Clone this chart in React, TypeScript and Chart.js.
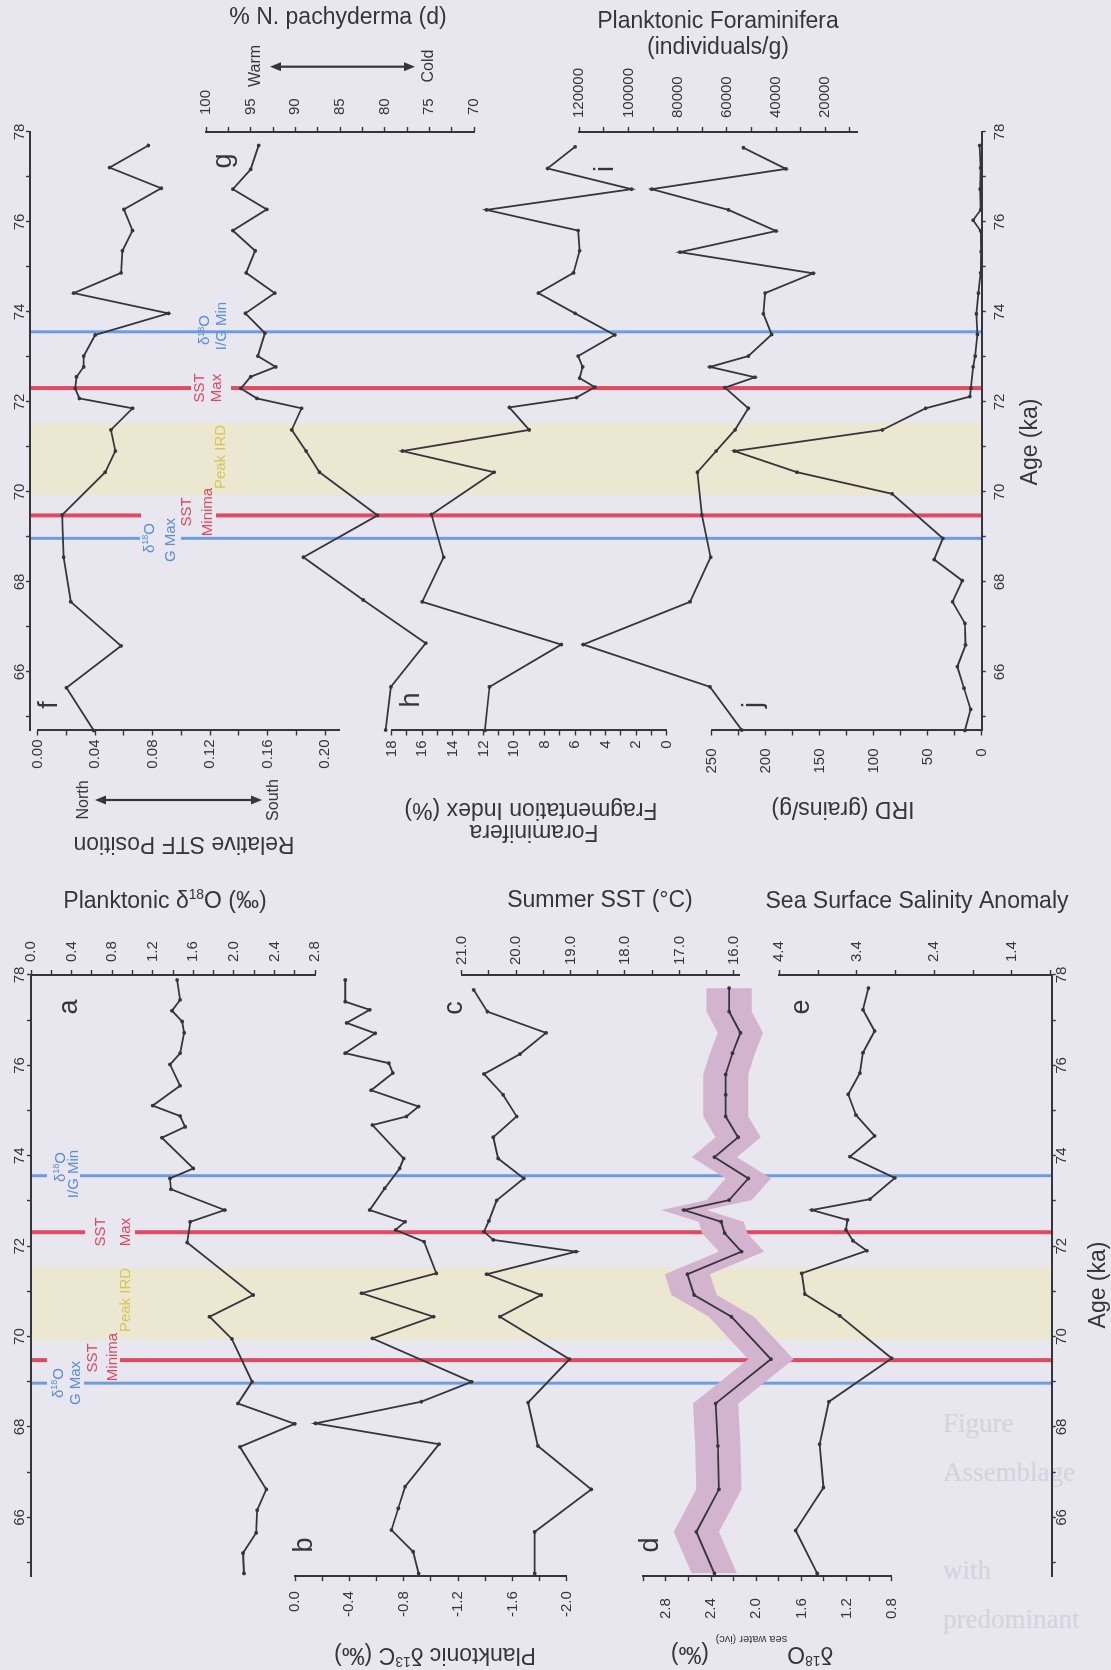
import { useEffect, useRef } from 'react';
import { Chart, registerables } from 'chart.js';

Chart.register(...registerables);

/* ------------------------------------------------------------------ */
/*  Data                                                               */
/* ------------------------------------------------------------------ */

// f – Relative STF position
const stfAge = [77.70, 77.21, 76.75, 76.28, 75.81, 75.36, 74.87, 74.42, 73.97, 73.49, 73.02, 72.78, 72.56, 72.30, 72.08, 71.86, 71.38, 70.91, 70.44, 69.49, 68.55, 67.56, 66.58, 65.65, 64.70];
const stfPosition = [0.077, 0.050, 0.086, 0.060, 0.066, 0.059, 0.058, 0.025, 0.091, 0.040, 0.032, 0.032, 0.027, 0.026, 0.029, 0.066, 0.051, 0.054, 0.047, 0.017, 0.018, 0.023, 0.058, 0.020, 0.039];

// g – % N. pachyderma (d)
const pachyAge = [77.70, 77.17, 76.73, 76.28, 75.81, 75.36, 74.87, 74.42, 73.97, 73.53, 73.02, 72.78, 72.56, 72.30, 72.08, 71.86, 71.38, 70.91, 70.44, 69.48, 68.55, 67.60, 66.64, 65.67, 64.71];
const pachyPct = [94.1, 95.0, 97.0, 93.2, 97.0, 94.5, 95.5, 92.3, 95.6, 93.4, 94.2, 92.2, 95.0, 96.1, 94.3, 89.3, 90.4, 88.8, 87.3, 80.8, 89.1, 82.4, 75.4, 79.3, 79.9];

// h – foraminifera fragmentation index (%)
const fragAge = [77.67, 77.19, 76.73, 76.27, 75.81, 75.36, 74.87, 74.42, 73.97, 73.49, 73.02, 72.78, 72.53, 72.33, 72.10, 71.88, 71.38, 70.91, 70.44, 69.50, 68.55, 67.56, 66.61, 65.67, 64.70];
const fragIndex = [6.0, 7.8, 2.3, 11.8, 5.8, 5.7, 6.1, 8.4, 6.0, 3.4, 5.8, 5.5, 5.7, 4.7, 5.9, 10.3, 9.0, 17.3, 11.3, 15.4, 14.6, 16.0, 6.9, 11.6, 11.9];

// i – planktonic foraminifera (individuals/g)
const foramAge = [77.65, 77.18, 76.73, 76.27, 75.80, 75.33, 74.86, 74.42, 73.96, 73.50, 73.02, 72.78, 72.55, 72.32, 71.86, 71.38, 70.91, 70.44, 69.49, 68.55, 67.56, 66.61, 65.67, 64.71];
const foramPerGram = [53300, 36000, 90600, 59400, 40000, 79100, 24900, 44500, 45200, 41800, 51300, 66900, 48600, 60800, 51300, 56700, 64400, 72000, 70200, 66600, 75000, 118400, 66900, 54000];

// j – IRD (grains/g)
const irdAge = [77.70, 77.20, 76.73, 76.27, 76.04, 75.80, 75.34, 74.87, 74.42, 73.96, 73.50, 73.02, 72.78, 72.31, 72.12, 71.86, 71.38, 70.91, 70.44, 69.96, 68.97, 68.50, 68.03, 67.56, 67.08, 66.60, 66.12, 65.64, 65.17, 64.70];
const irdPerGram = [2, 1, 1.5, 1, 8, 1, 0.5, 1, 3, 5, 4, 6, 8, 10, 11, 52, 92, 229, 171, 83, 36, 44, 18, 27, 15.5, 15, 22.6, 16.4, 10.2, 15.5];

// a – planktonic d18O (permil)
const d18OAge = [77.89, 77.45, 77.21, 76.97, 76.72, 76.27, 76.02, 75.55, 75.11, 74.88, 74.64, 74.40, 73.72, 73.50, 73.26, 72.80, 72.54, 72.08, 70.92, 70.44, 69.95, 69.00, 68.52, 68.07, 67.56, 66.62, 66.16, 65.66, 65.21, 64.76];
const d18O = [1.44, 1.47, 1.39, 1.49, 1.51, 1.47, 1.37, 1.47, 1.20, 1.47, 1.52, 1.29, 1.60, 1.37, 1.38, 1.91, 1.57, 1.54, 2.19, 1.76, 1.98, 2.18, 2.04, 2.60, 2.06, 2.32, 2.23, 2.22, 2.09, 2.10];

// b – planktonic d13C (permil)
const d13CAge = [77.89, 77.41, 77.23, 76.94, 76.71, 76.27, 76.05, 75.83, 75.45, 75.09, 74.87, 74.68, 73.94, 73.72, 73.28, 72.80, 72.54, 72.36, 72.10, 71.40, 70.96, 70.44, 69.96, 69.00, 68.56, 68.08, 67.62, 66.68, 66.20, 65.72, 65.24, 64.76];
const d13C = [-0.37, -0.37, -0.55, -0.38, -0.59, -0.37, -0.69, -0.72, -0.56, -0.91, -0.82, -0.57, -0.80, -0.77, -0.66, -0.55, -0.81, -0.74, -0.95, -1.04, -0.49, -1.02, -0.57, -1.30, -0.93, -0.15, -1.06, -0.81, -0.76, -0.71, -0.87, -0.91];

// c – summer SST (degC)
const sstAge = [77.67, 77.19, 76.72, 76.25, 75.81, 75.35, 74.87, 74.41, 73.94, 73.50, 73.01, 72.56, 72.32, 72.14, 71.88, 71.38, 70.92, 70.44, 69.50, 68.54, 67.58, 66.62, 65.68, 64.76];
const summerSST = [20.78, 20.53, 19.45, 19.93, 20.59, 20.24, 19.99, 20.42, 20.33, 19.86, 20.36, 20.50, 20.59, 20.42, 18.90, 20.54, 19.54, 20.30, 19.02, 19.78, 19.60, 18.62, 19.66, 19.66];

// d – d18O of sea water (ivc) with its uncertainty
const d18OswAge = [77.71, 77.19, 76.72, 76.27, 75.80, 75.35, 74.87, 74.41, 73.97, 73.50, 73.02, 72.80, 72.54, 72.29, 71.88, 71.38, 70.92, 70.44, 69.50, 68.52, 67.58, 66.62, 65.68, 64.76];
const d18Osw = [2.24, 2.24, 2.14, 2.21, 2.27, 2.27, 2.27, 2.16, 2.37, 2.07, 2.24, 2.64, 2.31, 2.28, 2.13, 2.61, 2.55, 2.22, 1.87, 2.36, 2.34, 2.33, 2.53, 2.37];
const d18OswErr = [0.2, 0.2, 0.2, 0.2, 0.2, 0.2, 0.2, 0.2, 0.2, 0.2, 0.2, 0.2, 0.2, 0.2, 0.2, 0.2, 0.2, 0.2, 0.2, 0.2, 0.2, 0.2, 0.2, 0.2];

// e – sea surface salinity anomaly
const sssAge = [77.71, 77.23, 76.76, 76.28, 75.83, 75.36, 74.90, 74.44, 73.98, 73.51, 73.04, 72.80, 72.58, 72.36, 72.12, 71.90, 71.40, 70.94, 70.46, 69.52, 68.56, 67.62, 66.66, 65.71, 64.76];
const sssAnomaly = [3.25, 3.32, 3.17, 3.32, 3.36, 3.51, 3.41, 3.17, 3.49, 2.91, 3.23, 3.98, 3.52, 3.54, 3.45, 3.27, 4.11, 4.07, 3.62, 2.95, 3.76, 3.88, 3.83, 4.19, 3.91];

// Age axis (ka)
const AGE_MIN = 64.7;
const AGE_MAX = 78;
const ageTicks = [66, 68, 70, 72, 74, 76, 78];
const ageMinorTicks = [65, 67, 69, 71, 73, 75, 77];

// Events
const peakIRD = [69.93, 71.53];
const isoIGMinAge = 73.56;
const sstMaxAge = 72.31;
const sstMinAge = 69.48;
const isoGMaxAge = 68.97;

// Value-axis tick labels
const stfTicks = [0, 0.04, 0.08, 0.12, 0.16, 0.2];
const stfMinor = [0.02, 0.06, 0.1, 0.14, 0.18];
const pachyTicks = [70, 75, 80, 85, 90, 95, 100];
const pachyMinor = [72.5, 77.5, 82.5, 87.5, 92.5, 97.5];
const fragTicks = [0, 2, 4, 6, 8, 10, 12, 14, 16, 18];
const fragMinor = [1, 3, 5, 7, 9, 11, 13, 15, 17];
const foramTicks = [20000, 40000, 60000, 80000, 100000, 120000];
const foramMinor = [10000, 30000, 50000, 70000, 90000, 110000];
const irdTicks = [0, 50, 100, 150, 200, 250];
const irdMinor = [25, 75, 125, 175, 225];
const d18OTicks = [0, 0.4, 0.8, 1.2, 1.6, 2.0, 2.4, 2.8];
const d18OMinor = [0.2, 0.6, 1.0, 1.4, 1.8, 2.2, 2.6];
const d13CTicks = [-2.0, -1.6, -1.2, -0.8, -0.4, 0];
const d13CMinor = [-1.8, -1.4, -1.0, -0.6, -0.2];
const sstTicks = [16, 17, 18, 19, 20, 21];
const sstMinor = [16.5, 17.5, 18.5, 19.5, 20.5];
const d18OswTicks = [0.8, 1.2, 1.6, 2.0, 2.4, 2.8];
const d18OswMinor = [1.0, 1.4, 1.8, 2.2, 2.6, 3.0];
const sssTicks = [1.4, 2.4, 3.4, 4.4];
const sssMinor = [0.9, 1.9, 2.9, 3.9];

// Caption lines printed beside the figure
const captionLines = ['Figure', 'Assemblage', 'with', 'predominant'];

/* ------------------------------------------------------------------ */
/*  Layout & style                                                     */
/* ------------------------------------------------------------------ */

const PAGE_W = 1111;
const PAGE_H = 1670;
// The figure is built in landscape (age left→right) and turned a quarter turn onto the page.
const FIG_W = PAGE_H;
const FIG_H = PAGE_W;

const FONT = '"Liberation Sans", Arial, Helvetica, sans-serif';
const INK = '#36353b';
const PAPER = '#e8e6ef';
const BAND = '#ece7d1';
const RED = '#df4c62';
const BLUE = '#6c9de3';
const PINK = '#d3b4cf';
const RED_TXT = '#dc4a5e';
const BLUE_TXT = '#5c8ed9';
const YEL_TXT = '#d6c755';

const AXIS_BOX = 100;
const TICK = 5;

type Half = { age78: number; perKa: number; top: number; bottom: number; gapLeft: number; gapRight: number };
type Axis = {
  lo: number; hi: number; vLo: number; vHi: number; side: 'top' | 'bottom';
  major: number[]; minor: number[]; dec: number; gap: number;
};

const UPPER: Half = { age78: 132, perKa: 45.0, top: 30, bottom: 981.7, gapLeft: 5, gapRight: 13 };
const LOWER: Half = { age78: 975, perKa: 45.2, top: 31, bottom: 1051.7, gapLeft: 6, gapRight: 5 };

const AX_F: Axis = { lo: 37.7, hi: 339.4, vLo: 0, vHi: 0.21, side: 'bottom', major: stfTicks, minor: stfMinor, dec: 2, gap: 9 };
const AX_G: Axis = { lo: 206, hi: 474, vLo: 100, vHi: 70, side: 'top', major: pachyTicks, minor: pachyMinor, dec: 0, gap: 17 };
const AX_H: Axis = { lo: 391.7, hi: 666.7, vLo: 18, vHi: 0, side: 'bottom', major: fragTicks, minor: fragMinor, dec: 0, gap: 10 };
const AX_I: Axis = { lo: 579.3, hi: 857.3, vLo: 120000, vHi: 7000, side: 'top', major: foramTicks, minor: foramMinor, dec: 0, gap: 14 };
const AX_J: Axis = { lo: 711.7, hi: 981.7, vLo: 250, vHi: 0, side: 'bottom', major: irdTicks, minor: irdMinor, dec: 0, gap: 18 };
const AX_A: Axis = { lo: 31, hi: 315, vLo: 0, vHi: 2.8, side: 'top', major: d18OTicks, minor: d18OMinor, dec: 1, gap: 13 };
const AX_B: Axis = { lo: 295, hi: 566.7, vLo: 0, vHi: -2.0, side: 'bottom', major: d13CTicks, minor: d13CMinor, dec: 1, gap: 15 };
const AX_C: Axis = { lo: 461.7, hi: 739.3, vLo: 21, vHi: 15.9, side: 'top', major: sstTicks, minor: sstMinor, dec: 1, gap: 10 };
const AX_D: Axis = { lo: 643.3, hi: 891.7, vLo: 3.0, vHi: 0.8, side: 'bottom', major: d18OswTicks, minor: d18OswMinor, dec: 1, gap: 22 };
const AX_E: Axis = { lo: 779.3, hi: 1050.5, vLo: 4.4, vHi: 0.9, side: 'top', major: sssTicks, minor: sssMinor, dec: 1, gap: 13 };

/* ------------------------------------------------------------------ */
/*  Drawing helpers (inputs in page coordinates)                       */
/* ------------------------------------------------------------------ */

type Seg = { t: string; sup?: boolean; sub?: boolean; k?: number; dy?: number };

function pageText(ctx: any, content: string | Seg[], px: number, py: number, rot: number, size: number, color: string) {
  const segs: Seg[] = typeof content === 'string' ? [{ t: content }] : content;
  ctx.save();
  ctx.translate(FIG_W - py, px);
  ctx.rotate(((rot + 90) * Math.PI) / 180);
  ctx.fillStyle = color;
  ctx.textAlign = 'left';
  ctx.textBaseline = 'alphabetic';
  let w = 0;
  let top = Infinity;
  let bot = -Infinity;
  const laid = segs.map((s) => {
    const fs = s.k ? size * s.k : s.sup || s.sub ? size * 0.6 : size;
    const dy = s.dy !== undefined ? s.dy : s.sup ? -size * 0.38 : s.sub ? size * 0.2 : 0;
    ctx.font = `${fs}px ${FONT}`;
    const m = ctx.measureText(s.t);
    top = Math.min(top, dy - m.actualBoundingBoxAscent);
    bot = Math.max(bot, dy + m.actualBoundingBoxDescent);
    const item = { s, fs, dy, x: w };
    w += m.width;
    return item;
  });
  const oy = -(top + bot) / 2;
  for (const it of laid) {
    ctx.font = `${it.fs}px ${FONT}`;
    ctx.fillText(it.s.t, it.x - w / 2, it.dy + oy);
  }
  ctx.restore();
}

function pageRect(ctx: any, x0: number, y0: number, x1: number, y1: number, color: string) {
  ctx.fillStyle = color;
  ctx.fillRect(FIG_W - y1, x0, y1 - y0, x1 - x0);
}

function pageArrow(ctx: any, x0: number, x1: number, y: number) {
  const X = FIG_W - y;
  ctx.strokeStyle = INK;
  ctx.fillStyle = INK;
  ctx.lineWidth = 2.2;
  ctx.beginPath();
  ctx.moveTo(X, x0 + 6);
  ctx.lineTo(X, x1 - 6);
  ctx.stroke();
  ctx.beginPath();
  ctx.moveTo(X, x0);
  ctx.lineTo(X - 4.5, x0 + 11);
  ctx.lineTo(X + 4.5, x0 + 11);
  ctx.closePath();
  ctx.fill();
  ctx.beginPath();
  ctx.moveTo(X, x1);
  ctx.lineTo(X - 4.5, x1 - 11);
  ctx.lineTo(X + 4.5, x1 - 11);
  ctx.closePath();
  ctx.fill();
}

const D18 = (rest = 'O'): Seg[] => [{ t: 'δ' }, { t: '18', sup: true }, { t: rest }];

/* ------------------------------------------------------------------ */
/*  Annotations for each stack                                         */
/* ------------------------------------------------------------------ */

function upperDecor(ctx: any) {
  // breaks in the event lines behind their labels
  pageRect(ctx, 191, 383, 231, 394, PAPER);
  pageRect(ctx, 141, 510, 216, 521, PAPER);
  pageRect(ctx, 140, 533, 181, 543, PAPER);

  pageText(ctx, D18(), 203.5, 330, -90, 15, BLUE_TXT);
  pageText(ctx, 'I/G Min', 220, 326, -90, 15, BLUE_TXT);
  pageText(ctx, 'SST', 199, 388, -90, 15, RED_TXT);
  pageText(ctx, 'Max', 216, 388, -90, 15, RED_TXT);
  pageText(ctx, D18(), 148, 538, -90, 15, BLUE_TXT);
  pageText(ctx, 'G Max', 170, 540, -90, 15, BLUE_TXT);
  pageText(ctx, 'SST', 186, 512, -90, 15, RED_TXT);
  pageText(ctx, 'Minima', 206, 512, -90, 15, RED_TXT);
  pageText(ctx, 'Peak IRD', 219, 457, -90, 15, YEL_TXT);

  pageText(ctx, 'f', 47, 705, -90, 27, INK);
  pageText(ctx, 'g', 226, 161, -90, 27, INK);
  pageText(ctx, 'h', 409, 700, -90, 27, INK);
  pageText(ctx, 'i', 603, 169, -90, 27, INK);
  pageText(ctx, 'j', 754, 705, -90, 27, INK);

  pageText(ctx, '% N. pachyderma (d)', 338, 18, 0, 23, INK);
  pageText(ctx, 'Planktonic Foraminifera', 718, 19, 0, 23, INK);
  pageText(ctx, '(individuals/g)', 718, 48, 0, 23, INK);
  pageText(ctx, 'Relative STF Position', 184, 846, 180, 23, INK);
  pageText(ctx, 'Foraminifera', 534, 834, 180, 23, INK);
  pageText(ctx, 'Fragmentation Index (%)', 531, 810, 180, 23, INK);
  pageText(ctx, 'IRD (grains/g)', 843, 809, 180, 23, INK);
  pageText(ctx, 'Age (ka)', 1030, 442, -90, 23, INK);

  pageArrow(ctx, 270, 415, 66.7);
  pageText(ctx, 'Warm', 254, 66, -90, 16, INK);
  pageText(ctx, 'Cold', 427, 66, -90, 16, INK);
  pageArrow(ctx, 95, 262, 800);
  pageText(ctx, 'North', 82, 800, -90, 16, INK);
  pageText(ctx, 'South', 272, 800, -90, 16, INK);
}

function lowerDecor(ctx: any) {
  pageRect(ctx, 47, 1171, 80, 1181, PAPER);
  pageRect(ctx, 85, 1226, 135, 1237, PAPER);
  pageRect(ctx, 47, 1354, 120, 1365, PAPER);
  pageRect(ctx, 47, 1378, 84, 1389, PAPER);

  pageText(ctx, D18(), 59, 1167, -90, 15, BLUE_TXT);
  pageText(ctx, 'I/G Min', 72, 1174, -90, 15, BLUE_TXT);
  pageText(ctx, 'SST', 100, 1232, -90, 15, RED_TXT);
  pageText(ctx, 'Max', 125, 1232, -90, 15, RED_TXT);
  pageText(ctx, D18(), 57, 1383, -90, 15, BLUE_TXT);
  pageText(ctx, 'G Max', 75, 1383, -90, 15, BLUE_TXT);
  pageText(ctx, 'SST', 92, 1358, -90, 15, RED_TXT);
  pageText(ctx, 'Minima', 111, 1357, -90, 15, RED_TXT);
  pageText(ctx, 'Peak IRD', 124, 1300, -90, 15, YEL_TXT);

  pageText(ctx, 'a', 69, 1007, -90, 27, INK);
  pageText(ctx, 'b', 302, 1545, -90, 27, INK);
  pageText(ctx, 'c', 454, 1008, -90, 27, INK);
  pageText(ctx, 'd', 648, 1545, -90, 27, INK);
  pageText(ctx, 'e', 801, 1007, -90, 27, INK);

  pageText(ctx, [{ t: 'Planktonic δ' }, { t: '18', sup: true }, { t: 'O (‰)' }], 165, 901, 0, 23, INK);
  pageText(ctx, 'Summer SST (°C)', 600, 901, 0, 23, INK);
  pageText(ctx, 'Sea Surface Salinity Anomaly', 917, 902, 0, 23, INK);
  pageText(ctx, [{ t: 'Planktonic δ' }, { t: '13', sup: true }, { t: 'C (‰)' }], 435, 1655, 180, 23, INK);
  pageText(ctx, [{ t: 'δ' }, { t: '18', sup: true }, { t: 'O' }, { t: 'sea water (ivc)', k: 0.48, dy: 11 }, { t: ' (‰)' }], 752, 1650, 180, 23, INK);
  pageText(ctx, 'Age (ka)', 1098, 1285, -90, 23, INK);
}

/* ------------------------------------------------------------------ */
/*  Chart configurations                                               */
/* ------------------------------------------------------------------ */

const ageSpan = (h: Half) => ({
  xl: FIG_W - (h.age78 + (AGE_MAX - AGE_MIN) * h.perKa),
  xr: FIG_W - h.age78,
});

const near = (list: number[], v: number) => list.some((m) => Math.abs(m - v) < 1e-6);

function lineSet(ages: number[], vals: number[]) {
  return {
    data: ages.map((a, i) => ({ x: a, y: vals[i] })),
    borderColor: INK,
    borderWidth: 1.8,
    pointRadius: 1.9,
    pointBackgroundColor: INK,
    pointBorderWidth: 0,
    tension: 0,
    fill: false,
    clip: false,
  };
}

function seriesConfig(half: Half, ax: Axis, datasets: any[]) {
  const { xl, xr } = ageSpan(half);
  const pos = ax.side === 'top' ? 'right' : 'left';
  const all = [...ax.major, ...ax.minor].sort((p, q) => p - q);
  return {
    type: 'line',
    data: { datasets },
    options: {
      animation: false,
      responsive: false,
      events: [],
      layout: {
        padding: {
          top: ax.lo,
          bottom: FIG_H - ax.hi,
          left: pos === 'left' ? xl - AXIS_BOX : xl,
          right: pos === 'right' ? FIG_W - xr - AXIS_BOX : FIG_W - xr,
        },
      },
      plugins: { legend: { display: false }, tooltip: { enabled: false } },
      scales: {
        x: { type: 'linear', display: false, min: AGE_MIN, max: AGE_MAX },
        y: {
          type: 'linear',
          position: pos,
          min: Math.min(ax.vLo, ax.vHi),
          max: Math.max(ax.vLo, ax.vHi),
          reverse: ax.vHi > ax.vLo,
          afterBuildTicks: (s: any) => { s.ticks = all.map((v) => ({ value: v })); },
          afterFit: (s: any) => { s.width = AXIS_BOX; },
          grid: { drawOnChartArea: false, tickLength: TICK, tickWidth: 1.4, tickColor: INK },
          border: { color: INK, width: 2 },
          ticks: {
            autoSkip: false,
            padding: ax.gap - TICK,
            color: INK,
            font: { family: FONT, size: 15, lineHeight: 1 },
            callback: (v: number) => (near(ax.major, v) ? Number(v).toFixed(ax.dec) : ''),
          },
        },
      },
    },
  };
}

const markers = [
  { age: isoIGMinAge, color: BLUE, width: 3 },
  { age: sstMaxAge, color: RED, width: 4 },
  { age: sstMinAge, color: RED, width: 4 },
  { age: isoGMaxAge, color: BLUE, width: 3 },
];

function frameConfig(half: Half, decor: (ctx: any) => void) {
  const { xl, xr } = ageSpan(half);
  const AX_HT = 24;
  const all = [...ageTicks, ...ageMinorTicks].sort((p, q) => p - q);
  const ageScale = (position: string, gap: number) => ({
    type: 'linear',
    position,
    min: AGE_MIN,
    max: AGE_MAX,
    afterBuildTicks: (s: any) => { s.ticks = all.map((v) => ({ value: v })); },
    afterFit: (s: any) => { s.height = AX_HT; },
    grid: { drawOnChartArea: false, tickLength: 4, tickWidth: 1.4, tickColor: INK },
    border: { color: INK, width: 2 },
    ticks: {
      autoSkip: false,
      maxRotation: 0,
      minRotation: 0,
      padding: gap - 6,
      color: INK,
      font: { family: FONT, size: 15, lineHeight: 1 },
      callback: (v: number) => (near(ageTicks, v) ? String(v) : ''),
    },
  });
  return {
    type: 'line',
    data: { datasets: [] },
    options: {
      animation: false,
      responsive: false,
      events: [],
      layout: { padding: { left: xl, right: FIG_W - xr, top: half.top - AX_HT, bottom: FIG_H - half.bottom - AX_HT } },
      plugins: { legend: { display: false }, tooltip: { enabled: false } },
      scales: {
        x: ageScale('bottom', half.gapRight),
        xt: { ...ageScale('top', half.gapLeft), axis: 'x' },
        y: { display: false, min: 0, max: 1 },
      },
    },
    plugins: [
      {
        id: 'eventMarks',
        beforeDraw(chart: any) {
          const { ctx, chartArea } = chart;
          const sx = chart.scales.x;
          ctx.save();
          const a = sx.getPixelForValue(peakIRD[0]);
          const b = sx.getPixelForValue(peakIRD[1]);
          ctx.fillStyle = BAND;
          ctx.fillRect(a, chartArea.top, b - a, chartArea.bottom - chartArea.top);
          for (const m of markers) {
            const X = sx.getPixelForValue(m.age);
            ctx.strokeStyle = m.color;
            ctx.lineWidth = m.width;
            ctx.beginPath();
            ctx.moveTo(X, chartArea.top);
            ctx.lineTo(X, chartArea.bottom);
            ctx.stroke();
          }
          ctx.restore();
        },
        afterDraw(chart: any) {
          chart.ctx.save();
          decor(chart.ctx);
          chart.ctx.restore();
        },
      },
    ],
  };
}

function buildConfigs() {
  const bandUpper = d18Osw.map((v, i) => v + d18OswErr[i]);
  const bandLower = d18Osw.map((v, i) => v - d18OswErr[i]);
  return [
    frameConfig(LOWER, lowerDecor),
    frameConfig(UPPER, upperDecor),
    seriesConfig(UPPER, AX_F, [lineSet(stfAge, stfPosition)]),
    seriesConfig(UPPER, AX_G, [lineSet(pachyAge, pachyPct)]),
    seriesConfig(UPPER, AX_H, [lineSet(fragAge, fragIndex)]),
    seriesConfig(UPPER, AX_I, [lineSet(foramAge, foramPerGram)]),
    seriesConfig(UPPER, AX_J, [lineSet(irdAge, irdPerGram)]),
    seriesConfig(LOWER, AX_A, [lineSet(d18OAge, d18O)]),
    seriesConfig(LOWER, AX_B, [lineSet(d13CAge, d13C)]),
    seriesConfig(LOWER, AX_C, [lineSet(sstAge, summerSST)]),
    seriesConfig(LOWER, AX_D, [
      lineSet(d18OswAge, d18Osw),
      {
        data: d18OswAge.map((a, i) => ({ x: a, y: bandUpper[i] })),
        borderColor: 'transparent', borderWidth: 0, pointRadius: 0, tension: 0,
        fill: '+1', backgroundColor: PINK, clip: false,
      },
      {
        data: d18OswAge.map((a, i) => ({ x: a, y: bandLower[i] })),
        borderColor: 'transparent', borderWidth: 0, pointRadius: 0, tension: 0,
        fill: false, clip: false,
      },
    ]),
    seriesConfig(LOWER, AX_E, [lineSet(sssAge, sssAnomaly)]),
  ];
}

/* ------------------------------------------------------------------ */

export default function App() {
  const refs = useRef<(HTMLCanvasElement | null)[]>([]);
  const count = 12;

  useEffect(() => {
    const charts = buildConfigs().map((cfg, i) => new Chart(refs.current[i] as HTMLCanvasElement, cfg as any));
    return () => charts.forEach((c) => c.destroy());
  }, []);

  return (
    <div style={{ position: 'absolute', left: 0, top: 0, width: PAGE_W, height: PAGE_H, background: PAPER, overflow: 'hidden' }}>
      {captionLines.map((line, i) => (
        <div
          key={line}
          style={{
            position: 'absolute', left: 943, top: 1407 + i * 49 + (i >= 2 ? 49 : 0), whiteSpace: 'nowrap',
            font: '27px "Liberation Serif", "Times New Roman", serif', color: '#d4d2db', lineHeight: '32px',
          }}
        >
          {line}
        </div>
      ))}
      <div
        style={{
          position: 'absolute', left: 0, top: 0, width: FIG_W, height: FIG_H,
          transformOrigin: '0 0', transform: `translateY(${PAGE_H}px) rotate(-90deg)`,
        }}
      >
        {Array.from({ length: count }, (_, i) => (
          <canvas
            key={i}
            ref={(el) => { refs.current[i] = el; }}
            width={FIG_W}
            height={FIG_H}
            style={{ position: 'absolute', left: 0, top: 0, width: FIG_W, height: FIG_H }}
          />
        ))}
      </div>
    </div>
  );
}
